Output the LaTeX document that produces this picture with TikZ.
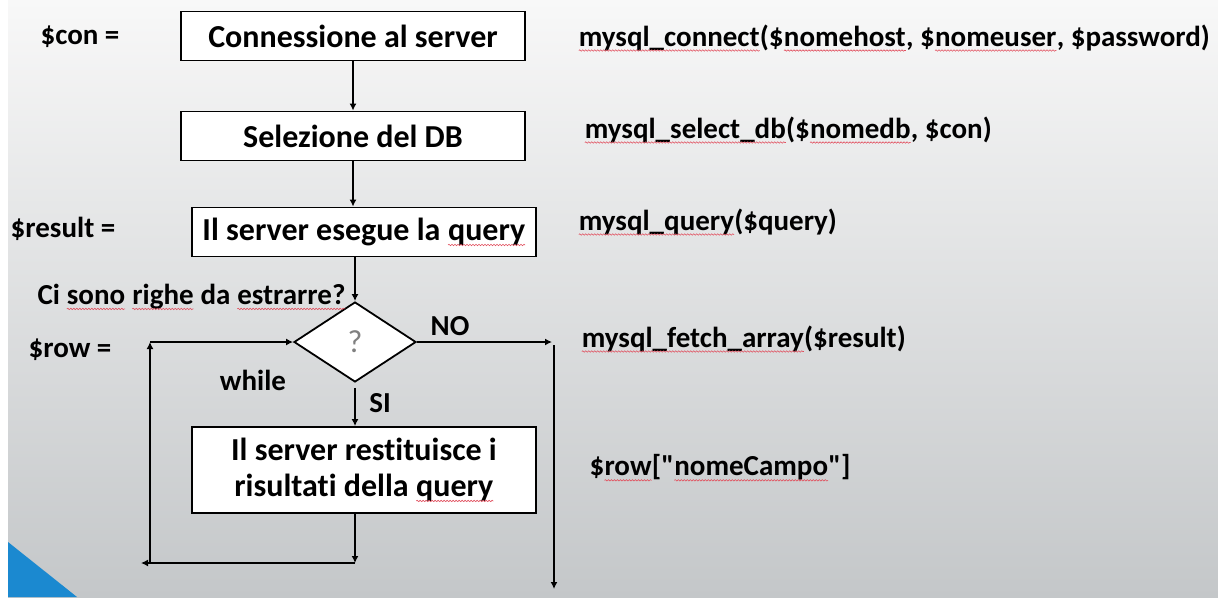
\documentclass[tikz,border=0pt]{standalone}
\usepackage{fontspec}
\setmainfont{Carlito}[Ligatures={NoCommon}]
\newfontfamily\rawfont{Carlito}
\usepackage{tikz}
\usetikzlibrary{math}
\usetikzlibrary{shapes.geometric, arrows.meta, decorations.pathmorphing}

\definecolor{spellred}{RGB}{225,80,95}
\definecolor{cornerblue}{RGB}{27,137,208}
\definecolor{bgtop}{RGB}{248,248,248}
\definecolor{bgbottom}{RGB}{196,199,201}

\newcommand\spell[1]{\tikz[baseline=(w.base)]{%
  \node[shape=rectangle, draw=none, fill=none, inner sep=0pt, outer sep=0pt,
    minimum width=0pt, minimum height=0pt, anchor=base] (w) {#1};
  \draw[spellred, line width=0.6pt, decorate, decoration={snake, amplitude=0.7pt, segment length=3pt}]
    ([yshift=-4.5pt]w.base west) -- ([yshift=-4.5pt]w.base east);}}

\tikzset{
  procbox/.style={draw, line width=1.8pt, fill=white, inner sep=0pt, align=center,
    minimum width=344pt, minimum height=49pt, font=\bfseries\fontsize{32}{36}\selectfont},
  decision/.style={diamond, draw, line width=1.8pt, fill=white, inner sep=0pt,
    minimum width=122pt, minimum height=80pt, text=gray, font=\fontsize{32}{32}\selectfont},
  varlabel/.style={font=\bfseries\fontsize{29}{32}\selectfont},
  phpcall/.style={anchor=west, font=\bfseries\fontsize{29}{32}\selectfont},
  flow/.style={line width=1.9pt, ->},
}

\begin{document}
\begin{tikzpicture}[x=1pt, y=-1pt, >={Latex[length=7pt,width=7pt]}]
          \tikzmath{
            \xm=355;
            \yd=342;
            \yb=563;
            \xl=150;
            \xr=554;}
          % background and corner
          \useasboundingbox (0,0) rectangle (1218,597);
          \fill[white] (0,0) rectangle (1218,597);
          \shade[top color=bgtop, bottom color=bgbottom] (8,0) rectangle (1218,597);
          \fill[cornerblue] (8,542) -- (77,597) -- (8,597) -- cycle;
          % boxes
          \node[procbox] (connect) at (353,36) {Connessione al server};
          \node[procbox] (selectdb) at (353,136) {Selezione del DB};
          \node[procbox] (runquery) at (364,232) {Il server esegue la \spell{query}};
          \node[decision] (check) at (\xm,\yd) {?};
          \node[procbox, minimum height=86pt] (fetch) at (364,470)
            {Il server restituisce i\\risultati della \spell{query}};
          % loop corners
          \coordinate (loopdown) at (\xm,\yb);
          \coordinate (loopleft) at (141,\yb);
          \coordinate (loopup) at (\xl,\yb);
          \coordinate (loopcorner) at (\xl,\yd);
          \coordinate (exitin) at (552,\yd);
          \coordinate (exittop) at (\xr,\yd+3);
          \coordinate (exitend) at (\xr,589);
          % connectors
          \draw[flow] (connect) -- (selectdb);
          \draw[flow] (selectdb.south) -- (selectdb.south |- runquery.north);
          \draw[flow] (check.north |- runquery.south) -- (check.north);
          \draw[flow, shorten <=5pt] (check.south) -- (check.south |- fetch.north);
          \draw[flow] (check.south |- fetch.south) -- (loopdown);
          \draw[flow] (loopdown) -- (loopleft);
          \draw[flow] (loopup) -- (loopcorner);
          \draw[flow] (loopcorner) -- (check.west);
          \draw[flow] (check.east) -- (exitin);
          \draw[flow] (exittop) -- (exitend);
          % labels
          \node[varlabel] (con) at (80,37) {\$con =};
          \node[varlabel] (result) at (63,229) {\$result =};
          \node[varlabel, anchor=west] (rows) at (34,297) {Ci \spell{sono} \spell{righe} da \spell{estrarre?}};
          \node[varlabel] (row) at (70,350) {\$row =};
          \node[varlabel] (while) at (253,380) {while};
          \node[varlabel] (no) at (450,326) {NO};
          \node[varlabel] (si) at (380,403) {SI};
          % php calls
          \node[phpcall] (fconnect) at (575,38) {\spell{mysql\_connect}(\$\spell{nomehost}, \$\spell{nomeuser}, \$password)};
          \node[phpcall] (fselect) at (581,130) {\spell{mysql\_select\_db}(\$\spell{nomedb}, \$con)};
          \node[phpcall] (fquery) at (575,222) {\spell{mysql\_query}(\$query)};
          \node[phpcall] (ffetch) at (578,339) {\spell{mysql\_fetch\_array}(\$result)};
          \node[phpcall] (ffield) at (586,468) {\rawfont\$\spell{row}["\spell{nomeCampo}"]};
        \end{tikzpicture}
\end{document}
